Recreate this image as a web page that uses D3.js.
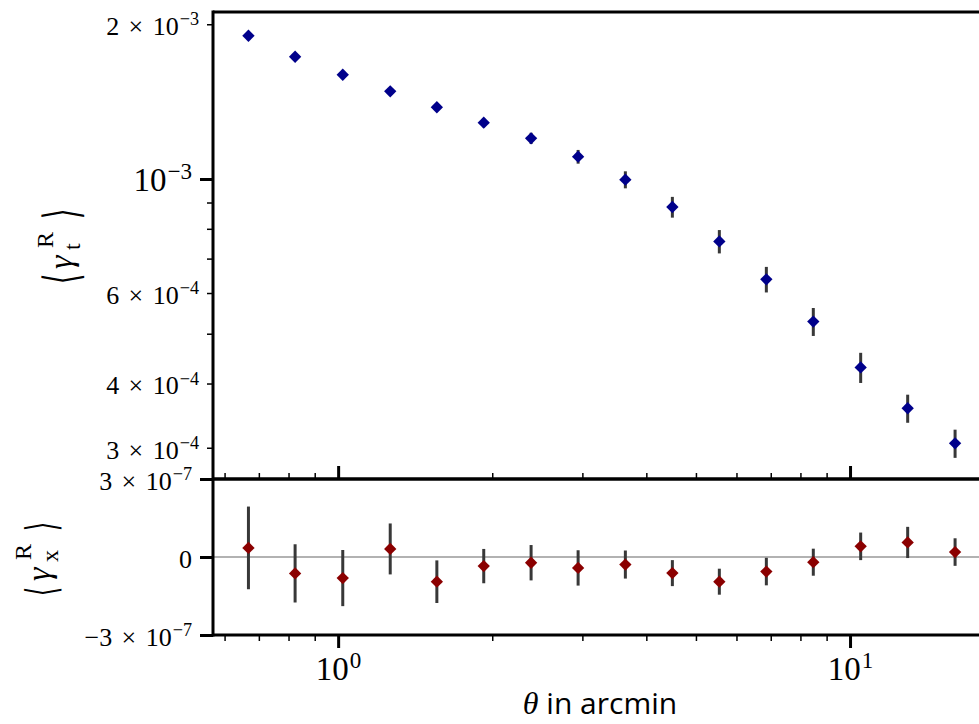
<!DOCTYPE html>
<html>
<head>
<meta charset="utf-8">
<script src="https://cdn.jsdelivr.net/npm/d3@7/dist/d3.min.js"></script>
<style>
  body { margin: 0; background: #fff; }
  svg { display: block; }
  .tick line { stroke: #000; }
</style>
</head>
<body>
<div id="chart"></div>
<script>
// data
var theta = [0.668, 0.824, 1.021, 1.264, 1.559, 1.925, 2.382, 2.943, 3.640, 4.497, 5.555, 6.863, 8.477, 10.49, 12.96, 16.04];
var gammaT = [1.900e-3, 1.729e-3, 1.595e-3, 1.481e-3, 1.379e-3, 1.287e-3, 1.200e-3, 1.105e-3, 0.997e-3, 0.882e-3, 0.756e-3, 0.638e-3, 0.528e-3, 0.430e-3, 0.358e-3, 0.306e-3];
var gammaTErr = [1.2e-5, 1.4e-5, 1.6e-5, 1.8e-5, 2.1e-5, 2.6e-5, 3.0e-5, 3.4e-5, 3.8e-5, 4.1e-5, 3.95e-5, 3.65e-5, 3.3e-5, 2.9e-5, 2.25e-5, 1.93e-5];
var gammaX = [0.35e-7, -0.63e-7, -0.81e-7, 0.31e-7, -0.95e-7, -0.35e-7, -0.22e-7, -0.42e-7, -0.29e-7, -0.62e-7, -0.95e-7, -0.56e-7, -0.20e-7, 0.41e-7, 0.56e-7, 0.19e-7];
var gammaXErr = [1.59e-7, 1.12e-7, 1.08e-7, 0.98e-7, 0.82e-7, 0.66e-7, 0.68e-7, 0.68e-7, 0.54e-7, 0.50e-7, 0.50e-7, 0.53e-7, 0.52e-7, 0.53e-7, 0.60e-7, 0.53e-7];

// ticks
var xMajor = [1, 10],
    xMinor = [0.6, 0.7, 0.8, 0.9, 2, 3, 4, 5, 6, 7, 8, 9];
var yTopMajor = [1e-3],
    yTopMinorLabeled = [2e-3, 6e-4, 4e-4, 3e-4],
    yTopMinor = [9e-4, 8e-4, 7e-4, 5e-4];
var yBotTicks = [3e-7, 0, -3e-7];

var W = 979, H = 724;
var serif = "'Liberation Serif', 'DejaVu Serif', serif";

var svg = d3.select("#chart").append("svg")
    .attr("width", W)
    .attr("height", H);

var left = 213, right = 988,
    topY = 12, midY = 479, botY = 635;

var x = d3.scaleLog().domain([0.567, 18.6]).range([left - 1, right]);
var yTop = d3.scaleLog().domain([2.608e-4, 2.113e-3]).range([midY, topY]);
var yBot = d3.scaleLinear().domain([-3e-7, 3e-7]).range([botY, midY]);

// label helpers: mantissa x 10^exp as tspans
function sciParts(v) {
    if (v === 0) return { mant: "0", exp: null };
    var e = Math.floor(Math.log10(Math.abs(v)) + 1e-9);
    var m = Math.round(v / Math.pow(10, e));
    var ex = (e < 0 ? "\u2212" + (-e) : "" + e);
    var sign = m < 0 ? "\u2212" : "";
    if (Math.abs(m) === 1) return { mant: null, sign: sign, exp: ex };
    return { mant: sign + Math.abs(m), exp: ex };
}

function setLabels(g, size, dy) {
    g.selectAll(".tick text").each(function(d) {
        var t = d3.select(this), p = sciParts(d);
        t.text(null)
            .attr("fill", "#000")
            .style("font-family", serif)
            .style("font-size", size + "px");
        if (dy != null) t.attr("dy", dy);
        if (!p.exp) { t.append("tspan").text(p.mant); return; }
        if (p.mant) {
            t.append("tspan").text(p.mant);
            t.append("tspan").attr("dx", 0.36 * size).text("\u00d7");
            t.append("tspan").attr("dx", 0.36 * size).text("10");
        } else {
            t.append("tspan").text(p.sign + "10");
        }
        t.append("tspan")
            .attr("dx", 1)
            .attr("dy", (-0.38 * size) + "px")
            .style("font-size", (size * 0.7) + "px")
            .text(p.exp);
    });
}

function styleTicks(g, w) {
    g.select(".domain").remove();
    g.selectAll(".tick line").attr("stroke-width", w);
}

//
// top panel y axis
//
var gy1 = svg.append("g").attr("transform", "translate(" + left + ",0)")
    .call(d3.axisLeft(yTop).tickValues(yTopMajor).tickSize(13).tickPadding(8));
styleTicks(gy1, 3);
setLabels(gy1, 33, "0.36em");

var gy2 = svg.append("g").attr("transform", "translate(" + left + ",0)")
    .call(d3.axisLeft(yTop).tickValues(yTopMinorLabeled).tickSize(6).tickPadding(8));
styleTicks(gy2, 1.5);
setLabels(gy2, 26, "0.4em");

var gy3 = svg.append("g").attr("transform", "translate(" + left + ",0)")
    .call(d3.axisLeft(yTop).tickValues(yTopMinor).tickSize(6).tickFormat(""));
styleTicks(gy3, 1.5);

//
// bottom panel y axis
//
var gy4 = svg.append("g").attr("transform", "translate(" + left + ",0)")
    .call(d3.axisLeft(yBot).tickValues(yBotTicks).tickSize(13).tickPadding(8));
styleTicks(gy4, 3);
setLabels(gy4, 26, "0.4em");

//
// x axes (divider ticks point up, bottom ticks point down)
//
var gx1 = svg.append("g").attr("transform", "translate(0," + midY + ")")
    .call(d3.axisTop(x).tickValues(xMajor).tickSize(13).tickFormat(""));
styleTicks(gx1, 3);
var gx2 = svg.append("g").attr("transform", "translate(0," + midY + ")")
    .call(d3.axisTop(x).tickValues(xMinor).tickSize(6).tickFormat(""));
styleTicks(gx2, 1.5);

var gx3 = svg.append("g").attr("transform", "translate(0," + botY + ")")
    .call(d3.axisBottom(x).tickValues(xMajor).tickSize(13).tickPadding(9));
styleTicks(gx3, 3);
setLabels(gx3, 33, null);
var gx4 = svg.append("g").attr("transform", "translate(0," + botY + ")")
    .call(d3.axisBottom(x).tickValues(xMinor).tickSize(6).tickFormat(""));
styleTicks(gx4, 1.5);

//
// zero line
//
svg.append("line")
    .attr("x1", left).attr("x2", W)
    .attr("y1", yBot(0)).attr("y2", yBot(0))
    .attr("stroke", "#999").attr("stroke-width", 1.5);

//
// error bars + markers
//
var pts = theta.map(function(t, i) {
    return { t: t, v: gammaT[i], e: gammaTErr[i], xv: gammaX[i], xe: gammaXErr[i] };
});

var diamond = d3.symbol().type(d3.symbolSquare).size(76);

svg.append("g").selectAll("line")
    .data(pts).enter().append("line")
    .attr("x1", function(d) { return x(d.t); })
    .attr("x2", function(d) { return x(d.t); })
    .attr("y1", function(d) { return yTop(d.v - d.e); })
    .attr("y2", function(d) { return yTop(d.v + d.e); })
    .attr("stroke", "#383838").attr("stroke-width", 3);

svg.append("g").selectAll("path")
    .data(pts).enter().append("path")
    .attr("d", diamond)
    .attr("transform", function(d) { return "translate(" + x(d.t) + "," + yTop(d.v) + ") rotate(45)"; })
    .attr("fill", "#00008b");

svg.append("g").selectAll("line")
    .data(pts).enter().append("line")
    .attr("x1", function(d) { return x(d.t); })
    .attr("x2", function(d) { return x(d.t); })
    .attr("y1", function(d) { return yBot(d.xv - d.xe); })
    .attr("y2", function(d) { return yBot(d.xv + d.xe); })
    .attr("stroke", "#383838").attr("stroke-width", 3);

svg.append("g").selectAll("path")
    .data(pts).enter().append("path")
    .attr("d", diamond)
    .attr("transform", function(d) { return "translate(" + x(d.t) + "," + yBot(d.xv) + ") rotate(45)"; })
    .attr("fill", "#8b0000");

//
// spines
//
function spine(x1, y1, x2, y2, w) {
    svg.append("line")
        .attr("x1", x1).attr("y1", y1).attr("x2", x2).attr("y2", y2)
        .attr("stroke", "#000").attr("stroke-width", w);
}
spine(left, topY - 1.5, left, botY + 1.5, 3);
spine(left, topY, right, topY, 3);
spine(left, midY, right, midY, 3.5);
spine(left, botY, right, botY, 3);

//
// axis labels  <gamma_sub^R>, rotated
//
function yLabel(bx, cy, sub, fb) {
    var g = svg.append("g").attr("transform", "translate(" + bx + "," + cy + ") rotate(-90)");
    function bracket(ch, lx) {
        g.append("g").attr("transform", "translate(" + lx + ",6) scale(0.55,1)")
          .append("text")
            .style("font-family", "'DejaVu Sans', sans-serif")
            .style("font-size", fb + "px")
            .text(ch);
    }
    bracket("\u27e8", -39);
    g.append("text").attr("x", -24).attr("y", 0)
        .style("font-family", serif).style("font-style", "italic").style("font-size", "34px")
        .text("\u03b3");
    g.append("text").attr("x", -3).attr("y", -19)
        .style("font-family", serif).style("font-size", "24px")
        .text("R");
    g.append("text").attr("x", -5).attr("y", 8)
        .style("font-family", serif).style("font-size", "24px")
        .text(sub);
    bracket("\u27e9", 26);
}
yLabel(72, 245, "t", 48);
yLabel(50, 557, "x", 42);

var xl = svg.append("text")
    .attr("x", 600).attr("y", 714)
    .attr("text-anchor", "middle");
xl.append("tspan")
    .style("font-family", serif).style("font-style", "italic").style("font-size", "32px")
    .text("\u03b8");
xl.append("tspan")
    .style("font-family", "'Open Sans', sans-serif").style("font-size", "30px")
    .text(" in arcmin");
</script>
</body>
</html>
